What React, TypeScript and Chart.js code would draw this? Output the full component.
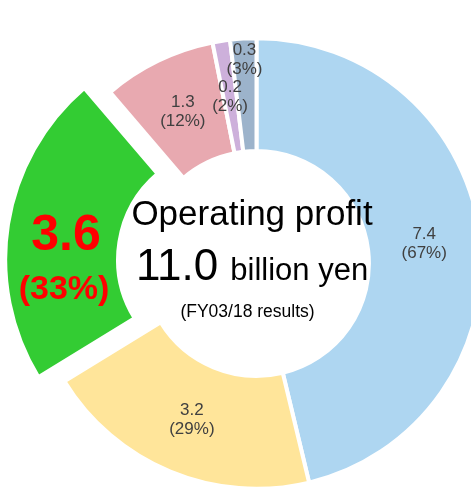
import React, { useEffect, useRef } from 'react';
import { Chart, registerables } from 'chart.js';

Chart.register(...registerables);

// ---- data ----
const categories = ['Segment A', 'Segment B', 'Segment C', 'Segment D', 'Segment E', 'Segment F'];
const values = [7.4, 3.2, 3.6, 1.3, 0.2, 0.3];
const shares = [67, 29, 33, 12, 2, 3];
const colors = ['#AED6F1', '#FFE59A', '#33CC33', '#E8A9B0', '#CDB0DB', '#9CB3CB'];
const highlightIndex = 2;
const titleText = 'Operating profit';
const totalText = '11.0';
const unitText = 'billion yen';
const noteText = '(FY03/18 results)';

const FONT = "'Liberation Sans', Arial, Helvetica, sans-serif";

const labelPlugin = {
  id: 'sliceLabels',
  afterDatasetsDraw(chart: any) {
    const ctx: CanvasRenderingContext2D = chart.ctx;
    const meta = chart.getDatasetMeta(0);
    ctx.save();
    ctx.textAlign = 'center';
    ctx.textBaseline = 'middle';
    let cx = 0;
    let cy = 0;
    meta.data.forEach((arc: any, i: number) => {
      const p = arc.getProps(['x', 'y', 'startAngle', 'endAngle', 'innerRadius', 'outerRadius'], true);
      cx = p.x;
      cy = p.y;
      const off = (arc.options.offset || 0) / 4;
      const mid = (p.startAngle + p.endAngle) / 2;
      let r = (p.innerRadius + p.outerRadius) / 2 + off;
      if (i === 5) r = p.outerRadius - 21;
      const px = p.x + Math.cos(mid) * r;
      const py = p.y + Math.sin(mid) * r;
      const v = values[i].toFixed(1);
      const s = '(' + shares[i] + '%)';
      if (i === highlightIndex) {
        ctx.fillStyle = '#FF0000';
        ctx.font = `bold 50px ${FONT}`;
        ctx.fillText(v, px + 2, py + 3);
        ctx.font = `bold 34px ${FONT}`;
        ctx.fillText(s, px, py + 57);
      } else {
        ctx.fillStyle = '#404040';
        ctx.font = `17px ${FONT}`;
        ctx.fillText(v, px, py - 9);
        ctx.fillText(s, px, py + 10);
      }
    });

    // centre text
    ctx.fillStyle = '#000000';
    ctx.textBaseline = 'alphabetic';
    ctx.textAlign = 'center';
    ctx.font = `35px ${FONT}`;
    ctx.fillText(titleText, cx - 4.5, cy - 39);

    ctx.textAlign = 'left';
    ctx.font = `44px ${FONT}`;
    const w1 = ctx.measureText(totalText).width;
    ctx.font = `31px ${FONT}`;
    const w2 = ctx.measureText(unitText).width;
    const gap = 12;
    const startX = cx - 4.5 - (w1 + gap + w2) / 2;
    ctx.font = `44px ${FONT}`;
    ctx.fillText(totalText, startX, cy + 16);
    ctx.font = `31px ${FONT}`;
    ctx.fillText(unitText, startX + w1 + gap, cy + 16);

    ctx.textAlign = 'center';
    ctx.font = `17.5px ${FONT}`;
    ctx.fillText(noteText, cx - 9, cy + 53);
    ctx.restore();
  },
};

export default function App() {
  const ref = useRef<HTMLCanvasElement | null>(null);
  useEffect(() => {
    if (!ref.current) return;
    const chart = new Chart(ref.current, {
      type: 'doughnut',
      data: {
        labels: categories,
        datasets: [
          {
            data: values,
            backgroundColor: colors,
            borderColor: '#FFFFFF',
            borderWidth: 4,
            offset: values.map((_, i) => (i === highlightIndex ? 104 : 0)),
          },
        ],
      },
      options: {
        responsive: false,
        animation: false,
        radius: 225.3,
        cutout: '49.9%',
        layout: { padding: { left: 42, right: 0, top: 38, bottom: 0 } },
        plugins: {
          legend: { display: false },
          title: { display: false },
          tooltip: { enabled: false },
        },
      },
      plugins: [labelPlugin],
    });
    return () => chart.destroy();
  }, []);
  return (
    <div style={{ position: 'absolute', left: 0, top: 0, width: 471, height: 489, background: '#fff' }}>
      <canvas ref={ref} width={471} height={489} style={{ display: 'block' }} />
    </div>
  );
}
